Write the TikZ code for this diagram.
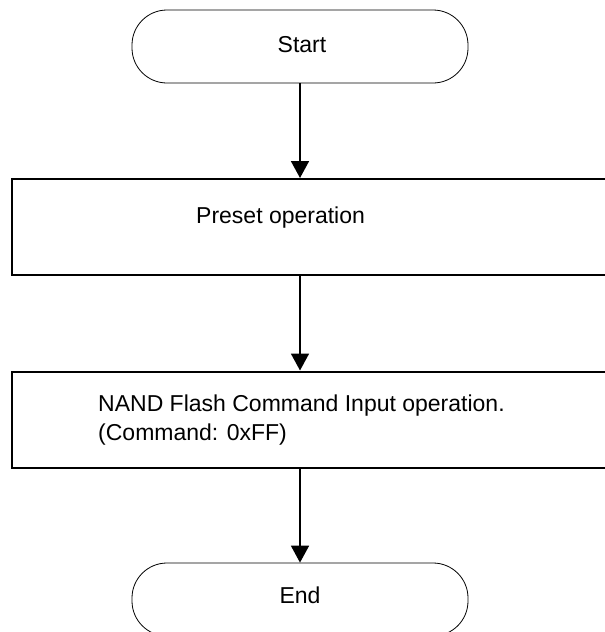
\documentclass[tikz,border=0pt]{standalone}
\usepackage{fontspec}
\setmainfont{Liberation Sans}
\usetikzlibrary{arrows.meta}
\begin{document}
\begin{tikzpicture}[x=1pt,y=-1pt,
  term/.style={draw,line width=0.8pt,rounded corners=35pt,minimum width=336pt,minimum height=73pt,inner sep=0pt},
  proc/.style={draw,line width=2pt,minimum width=620pt,minimum height=96pt,inner sep=0pt},
  lbl/.style={font=\fontsize{23}{27}\selectfont,inner sep=0pt},
  flow/.style={line width=1.8pt,-{Triangle[length=17pt,width=18pt]}}]
\useasboundingbox (0,0) rectangle (605,632);
\clip (0,0) rectangle (605,632);
\node[term] (start) at (300,46.5) {};
\node[lbl,anchor=base] (starttxt) at (302,52) {Start};
\node[proc] (preset) at (322,227) {};
\node[lbl,anchor=base west] (presettxt) at (196,223) {Preset operation};
\node[proc] (nand) at (322,419.5) {};
\node[lbl,anchor=base west] (nandtxt1) at (98,411) {NAND Flash Command Input operation.};
\node[lbl,anchor=base west] (nandtxt2) at (98,440) {(Command: 0xFF)};
\node[term] (end) at (300,599.5) {};
\node[lbl,anchor=base] (endtxt) at (300,603) {End};
\draw[flow] (start.south -| 300,0) -- (preset.north -| 300,0);
\draw[flow] (preset.south -| 300,0) -- (nand.north -| 300,0);
\draw[flow] (nand.south -| 300,0) -- (end.north -| 300,0);
\end{tikzpicture}
\end{document}
